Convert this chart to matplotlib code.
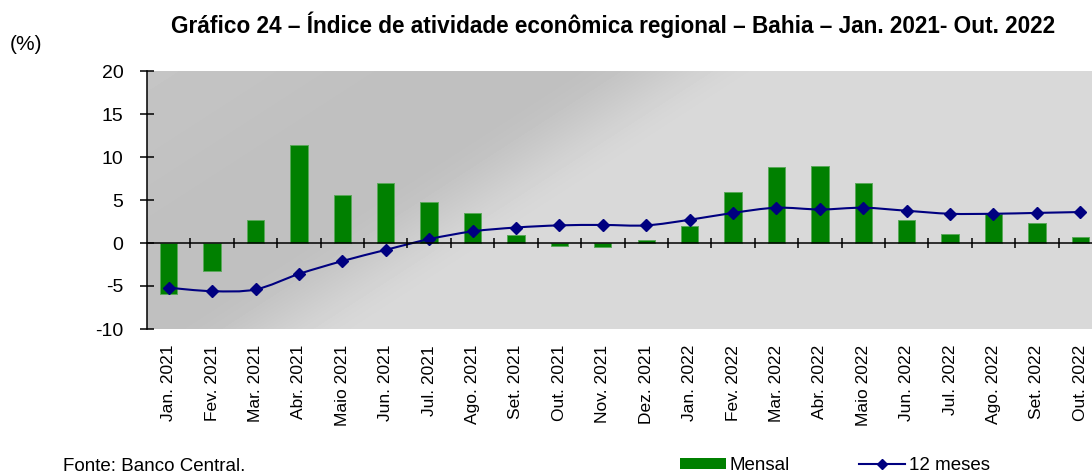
import numpy as np
import matplotlib
matplotlib.use("Agg")
import matplotlib.pyplot as plt
from matplotlib.path import Path
from matplotlib.patches import PathPatch, Patch
from matplotlib.lines import Line2D

plt.rcParams['font.family'] = ['Liberation Sans', 'DejaVu Sans']

categories = ["Jan. 2021", "Fev. 2021", "Mar. 2021", "Abr. 2021", "Maio 2021", "Jun. 2021",
              "Jul. 2021", "Ago. 2021", "Set. 2021", "Out. 2021", "Nov. 2021", "Dez. 2021",
              "Jan. 2022", "Fev. 2022", "Mar. 2022", "Abr. 2022", "Maio 2022", "Jun. 2022",
              "Jul. 2022", "Ago. 2022", "Set. 2022", "Out. 2022"]
mensal = [-5.9, -3.3, 2.7, 11.4, 5.55, 6.95, 4.75, 3.5, 0.9, -0.3, -0.45, 0.3,
          1.95, 5.95, 8.8, 9.0, 6.95, 2.7, 1.1, 3.35, 2.35, 0.7]
doze_meses = [-5.2, -5.6, -5.4, -3.6, -2.1, -0.8, 0.45, 1.35, 1.8, 2.05, 2.1, 2.05,
              2.7, 3.5, 4.1, 3.9, 4.1, 3.75, 3.4, 3.4, 3.5, 3.6]
yticks = [-10, -5, 0, 5, 10, 15, 20]

W, H = 1092, 473
fig = plt.figure(figsize=(W / 100, H / 100), dpi=100)
ax_l, ax_b, ax_w, ax_h = 147, 71, 955, 258
ax = fig.add_axes([ax_l / W, 1 - (ax_b + ax_h) / H, ax_w / W, ax_h / H])

# gradient background (dark band upper-left, light lower-right)
cols = np.arange(ax_w)[None, :]
rows = np.arange(ax_h)[:, None]
t = cols + 1.55 * rows
frac = np.clip((t - 420) / 200.0, 0, 1)
frac = frac * frac * (3 - 2 * frac)
base = 0.752 + 0.02 * np.clip((250 - t) / 250.0, 0, 1)
grad = base + (0.85 - base) * frac
ax.imshow(grad, cmap='gray', vmin=0, vmax=1, extent=[0, 1, 0, 1],
          transform=ax.transAxes, aspect='auto', zorder=0, interpolation='bilinear')
ax.patch.set_visible(False)

x = np.arange(len(categories))
ax.bar(x, mensal, width=0.4, color='#008000', edgecolor='#5aa85a', linewidth=0.7, zorder=2)

# smoothed line (Catmull-Rom -> Bezier)
pts = np.column_stack([x, doze_meses]).astype(float)
verts = [tuple(pts[0])]
codes = [Path.MOVETO]
n = len(pts)
for i in range(n - 1):
    p0 = pts[i - 1] if i > 0 else pts[i]
    p1 = pts[i]
    p2 = pts[i + 1]
    p3 = pts[i + 2] if i + 2 < n else pts[i + 1]
    c1 = p1 + (p2 - p0) / 6.0
    c2 = p2 - (p3 - p1) / 6.0
    verts += [tuple(c1), tuple(c2), tuple(p2)]
    codes += [Path.CURVE4] * 3
ax.add_patch(PathPatch(Path(verts, codes), facecolor='none', edgecolor='#000080',
                       linewidth=1.5, zorder=4))
ax.plot(x, doze_meses, linestyle='none', marker='D', markersize=6.2,
        color='#000080', zorder=5)

ax.set_xlim(-0.5, len(categories) - 0.5)
ax.set_ylim(-10, 20)
ax.set_yticks(yticks)
ax.set_yticklabels([str(v) for v in yticks])
ax.tick_params(axis='y', direction='inout', length=10, width=1.1, pad=12, labelsize=14)
ax.set_xticks(x)
ax.set_xticklabels(categories, rotation=90, fontsize=12.5)
ax.tick_params(axis='x', length=0, pad=11.5)
for s in ['top', 'right', 'bottom']:
    ax.spines[s].set_visible(False)
ax.spines['left'].set_linewidth(1.1)
ax.spines['left'].set_zorder(6)

# zero axis with boundary ticks
zero_loc = (0 - (-10)) / 30.0
sec = ax.secondary_xaxis(zero_loc)
sec.set_xticks(x[:-1] + 0.5)
sec.tick_params(direction='inout', length=7, width=1.1, labelbottom=False, labeltop=False)
sec.spines['bottom'].set_linewidth(1.1)
sec.set_zorder(6)

fig.text(613 / W, 1 - 32.7 / H,
         "Gráfico 24 – Índice de atividade econômica regional – Bahia – Jan. 2021- Out. 2022",
         ha='center', va='baseline', fontsize=16.3, fontweight='bold')
fig.text(10 / W, 1 - 45 / H, "(%)", ha='left', va='center', fontsize=15)
fig.text(63 / W, 1 - 471 / H, "Fonte: Banco Central.", ha='left', va='baseline', fontsize=13.5)

handles = [Patch(facecolor='#008000', edgecolor='none'),
           Line2D([], [], color='#000080', linewidth=1.5, marker='D', markersize=5)]
fig.legend(handles, ["Mensal", "12 meses"], loc='center left',
           bbox_to_anchor=(680 / W, 1 - 465.5 / H), ncol=2, frameon=False,
           fontsize=13.5, handlelength=2.45, handleheight=0.53, handletextpad=0.2,
           columnspacing=3.7, borderpad=0, borderaxespad=0)

fig.savefig("out.png", dpi=100)
